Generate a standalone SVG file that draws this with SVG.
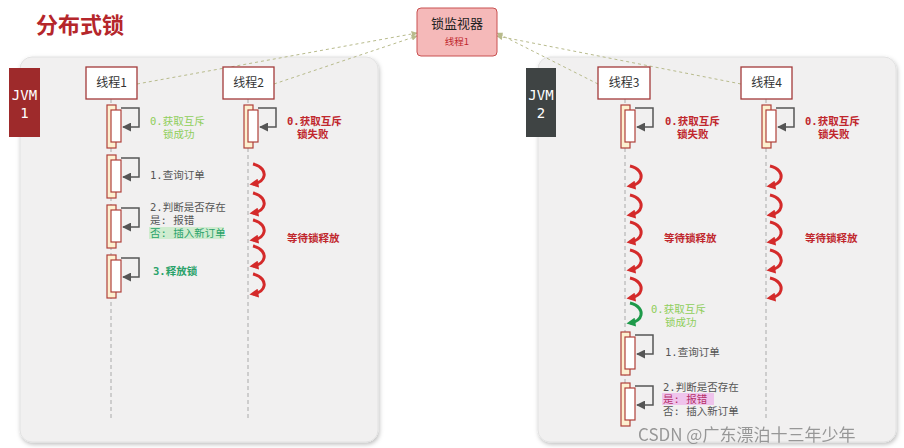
<svg xmlns="http://www.w3.org/2000/svg" xmlns:xlink="http://www.w3.org/1999/xlink" width="904" height="448" viewBox="0 0 904 448">
<style>
text{font-family:"Noto Sans CJK SC","DejaVu Sans Mono",sans-serif}
.panel{fill:#f1f0f0;stroke:#e2e2e2;stroke-width:1}
.th{fill:#fff;stroke:#a33a3a;stroke-width:1.3}
.tt{font-size:12px;fill:#333;text-anchor:middle}
.life{stroke:#aaa;stroke-width:1;stroke-dasharray:4 3}
.outer{fill:#fdf0d0;stroke:#b0403a;stroke-width:1.2}
.inner{fill:#fff;stroke:#b0403a;stroke-width:1.2}
.self{fill:none;stroke:#555;stroke-width:1.5}
.lab{font-size:10.5px;font-family:"DejaVu Sans Mono","Noto Sans CJK SC",monospace}
.jv{font-size:14px;fill:#fff;text-anchor:middle;font-family:"DejaVu Sans Mono",monospace}
.red{fill:#c0272d;font-weight:bold}
.lg{fill:#8fce5a}
.gray{fill:#555}
.dg{fill:#2aa26a;font-weight:bold}
.conn{stroke:#b8bb8c;stroke-width:1;stroke-dasharray:3 3;fill:none}
.curl{fill:none;stroke-width:3}
</style>
<defs>
<marker id="ah" viewBox="0 0 10 10" refX="9" refY="5" markerWidth="6" markerHeight="6" orient="auto"><path d="M0,0 L10,5 L0,10 z" fill="#555"/></marker>
<marker id="ah2" viewBox="0 0 10 10" refX="9" refY="5" markerWidth="6" markerHeight="6" orient="auto"><path d="M0,0 L10,5 L0,10 z" fill="#b8bb8c"/></marker>
<marker id="rh" viewBox="0 0 10 10" refX="6" refY="5" markerWidth="3" markerHeight="3" orient="auto"><path d="M0,0 L10,5 L0,10 z" fill="#d42a2a"/></marker>
<marker id="gh" viewBox="0 0 10 10" refX="6" refY="5" markerWidth="3" markerHeight="3" orient="auto"><path d="M0,0 L10,5 L0,10 z" fill="#1e9a4a"/></marker>
<path id="c" class="curl" stroke="#d42a2a" marker-end="url(#rh)" d="M0,0 C9,2 12,8 11,12 C10,17 6,19 0,20"/>
<path id="cg" class="curl" stroke="#1e9a4a" marker-end="url(#gh)" d="M0,0 C9,2 12,8 11,12 C10,17 6,19 0,20"/>
<g id="act"><rect class="outer" x="-4" y="0" width="9" height="43"/><rect class="inner" x="0" y="5" width="10" height="32"/><path class="self" marker-end="url(#ah)" d="M10,3 H28 V22 H12"/></g>
<filter id="sh" x="-5%" y="-5%" width="110%" height="110%"><feDropShadow dx="1" dy="2" stdDeviation="2" flood-color="#000" flood-opacity="0.25"/></filter>
</defs>
<rect width="904" height="448" fill="#fff"/>
<text x="36" y="33" font-size="22" font-weight="bold" fill="#b5262b">分布式锁</text>
<rect class="panel" x="20" y="57" width="358" height="385" rx="12" filter="url(#sh)"/>
<rect class="panel" x="538" y="57" width="358" height="385" rx="12" filter="url(#sh)"/>
<g id="connectors">
<path class="conn" marker-end="url(#ah2)" d="M137,84 L417,33"/>
<path class="conn" marker-end="url(#ah2)" d="M274,84 L417,36"/>
<path class="conn" marker-end="url(#ah2)" d="M598,84 L497,33"/>
<path class="conn" marker-end="url(#ah2)" d="M741,84 L497,36"/>
</g>
<g id="monitor"><rect x="417" y="8" width="80" height="48" rx="4" fill="#f5b9b9" stroke="#c85050"/><text x="457" y="28" font-size="13" fill="#222" text-anchor="middle">锁监视器</text><text x="457" y="45" font-size="9.5" fill="#c0272d" text-anchor="middle">线程1</text></g>
<g id="jvm1"><rect x="9" y="68" width="31" height="69" fill="#9e2a2b"/><text class="jv" x="24.5" y="100">JVM</text><text class="jv" x="24.5" y="118">1</text></g>
<g id="jvm2"><rect x="526" y="68" width="30" height="69" fill="#3f4444"/><text class="jv" x="541" y="100">JVM</text><text class="jv" x="541" y="118">2</text></g>
<g id="t1">
<line class="life" x1="111" y1="99" x2="111" y2="420"/>
<rect class="th" x="86" y="67" width="51" height="32"/><text class="tt" x="111.5" y="87">线程1</text>
<use href="#act" x="111" y="105"/><use href="#act" x="111" y="155"/><use href="#act" x="111" y="205"/><use href="#act" x="111" y="255"/>
<text class="lab lg" x="150" y="125">0.获取互斥</text><text class="lab lg" x="163" y="138">锁成功</text>
<text class="lab gray" x="150" y="179">1.查询订单</text>
<text class="lab gray" x="150" y="211">2.判断是否存在</text><text class="lab gray" x="150" y="224">是: 报错</text>
<rect x="149" y="227" width="75" height="12" fill="#cfeccf"/><text class="lab" x="150" y="237" fill="#2aa26a">否: 插入新订单</text>
<text class="lab dg" x="153" y="275">3.释放锁</text>
</g>
<g id="t2">
<line class="life" x1="248" y1="99" x2="248" y2="420"/>
<rect class="th" x="223" y="67" width="51" height="32"/><text class="tt" x="248.5" y="87">线程2</text>
<use href="#act" x="248" y="105"/>
<text class="lab red" x="287" y="125">0.获取互斥</text><text class="lab red" x="297" y="138">锁失败</text>
<use href="#c" x="253" y="164"/><use href="#c" x="253" y="193"/><use href="#c" x="253" y="220"/><use href="#c" x="253" y="246"/><use href="#c" x="253" y="274"/>
<text class="lab red" x="287" y="242">等待锁释放</text>
</g>
<g id="t3">
<line class="life" x1="625" y1="99" x2="625" y2="420"/>
<rect class="th" x="598" y="67" width="52" height="32"/><text class="tt" x="624" y="87">线程3</text>
<use href="#act" x="625" y="105"/>
<text class="lab red" x="665" y="125">0.获取互斥</text><text class="lab red" x="677" y="138">锁失败</text>
<use href="#c" x="630" y="166"/><use href="#c" x="630" y="195"/><use href="#c" x="630" y="222"/><use href="#c" x="630" y="250"/><use href="#c" x="630" y="278"/>
<text class="lab red" x="664" y="242">等待锁释放</text>
<use href="#cg" x="630" y="303"/>
<text class="lab lg" x="651" y="313">0.获取互斥</text><text class="lab lg" x="665" y="326">锁成功</text>
<use href="#act" x="625" y="332"/><use href="#act" x="625" y="383"/>
<text class="lab gray" x="665" y="356">1.查询订单</text>
<text class="lab gray" x="663" y="391">2.判断是否存在</text>
<rect x="662" y="393" width="52" height="12" fill="#efc4ec"/><text class="lab" x="663" y="403" fill="#b5306a">是: 报错</text>
<text class="lab gray" x="663" y="415">否: 插入新订单</text>
</g>
<g id="t4">
<line class="life" x1="766" y1="99" x2="766" y2="420"/>
<rect class="th" x="741" y="67" width="51" height="32"/><text class="tt" x="766.5" y="87">线程4</text>
<use href="#act" x="766" y="105"/>
<text class="lab red" x="805" y="125">0.获取互斥</text><text class="lab red" x="818" y="138">锁失败</text>
<use href="#c" x="770" y="166"/><use href="#c" x="770" y="195"/><use href="#c" x="770" y="222"/><use href="#c" x="770" y="250"/><use href="#c" x="770" y="278"/>
<text class="lab red" x="805" y="242">等待锁释放</text>
</g>
<text x="638" y="441" font-size="17" fill="#888" opacity="0.85">CSDN @广东漂泊十三年少年</text>
</svg>
